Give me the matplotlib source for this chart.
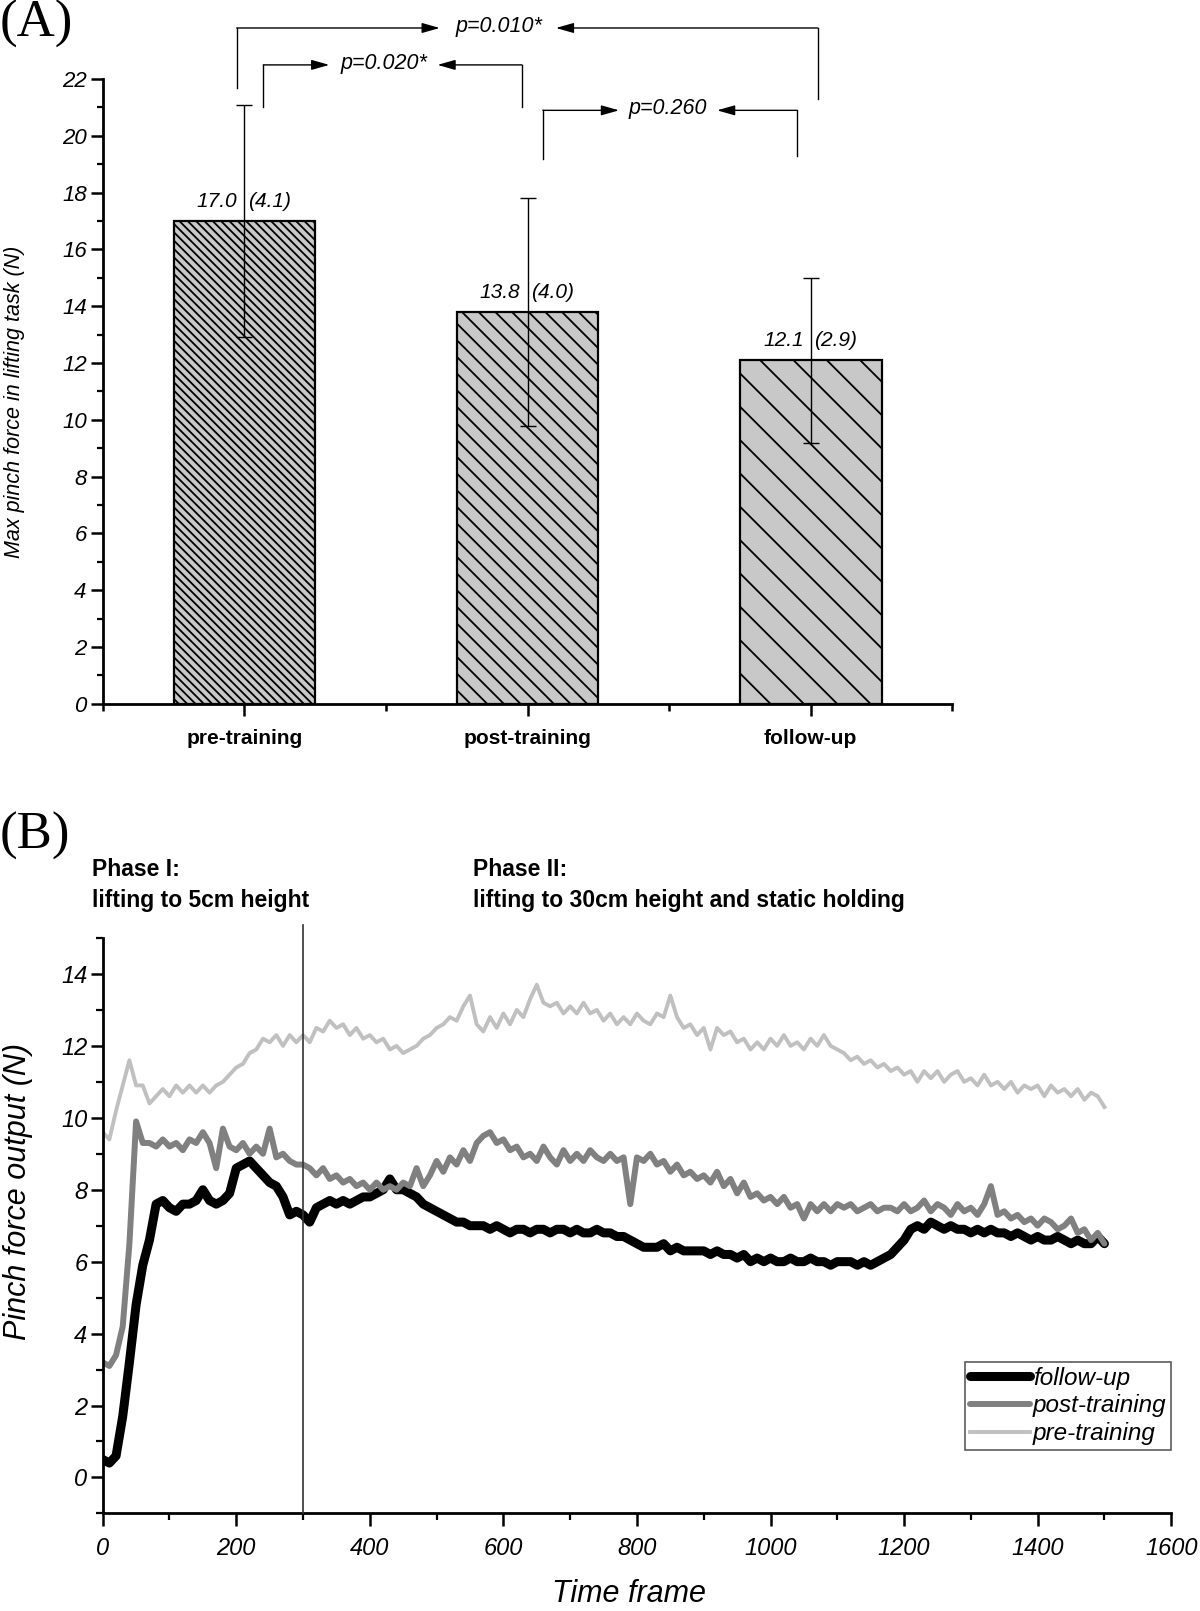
import matplotlib
matplotlib.use("Agg")
import matplotlib.pyplot as plt
from matplotlib.ticker import MultipleLocator, FixedLocator
import numpy as np

# ---------------- data: panel A ----------------
categories = ["pre-training", "post-training", "follow-up"]
means = [17.0, 13.8, 12.1]
sds = [4.1, 4.0, 2.9]
p_labels = ["p=0.010*", "p=0.020*", "p=0.260"]

# ---------------- data: panel B ----------------
frames = list(range(0, 1501, 10))
follow_up = [
    0.5, 0.4, 0.6, 1.7, 3.2, 4.8, 5.9, 6.6, 7.6, 7.7,
    7.5, 7.4, 7.6, 7.6, 7.7, 8.0, 7.7, 7.6, 7.7, 7.9,
    8.6, 8.7, 8.8, 8.6, 8.4, 8.2, 8.1, 7.8, 7.3, 7.4,
    7.3, 7.1, 7.5, 7.6, 7.7, 7.6, 7.7, 7.6, 7.7, 7.8,
    7.8, 7.9, 8.0, 8.3, 8.0, 8.0, 7.9, 7.8, 7.6, 7.5,
    7.4, 7.3, 7.2, 7.1, 7.1, 7.0, 7.0, 7.0, 6.9, 7.0,
    6.9, 6.8, 6.9, 6.9, 6.8, 6.9, 6.9, 6.8, 6.9, 6.9,
    6.8, 6.9, 6.8, 6.8, 6.9, 6.8, 6.8, 6.7, 6.7, 6.6,
    6.5, 6.4, 6.4, 6.4, 6.5, 6.3, 6.4, 6.3, 6.3, 6.3,
    6.3, 6.2, 6.3, 6.2, 6.2, 6.1, 6.2, 6.0, 6.1, 6.0,
    6.1, 6.0, 6.0, 6.1, 6.0, 6.0, 6.1, 6.0, 6.0, 5.9,
    6.0, 6.0, 6.0, 5.9, 6.0, 5.9, 6.0, 6.1, 6.2, 6.4,
    6.6, 6.9, 7.0, 6.9, 7.1, 7.0, 6.9, 7.0, 6.9, 6.9,
    6.8, 6.9, 6.8, 6.9, 6.8, 6.8, 6.7, 6.8, 6.7, 6.6,
    6.7, 6.6, 6.6, 6.7, 6.6, 6.5, 6.6, 6.5, 6.5, 6.7,
    6.5,
]
post_training = [
    3.2, 3.1, 3.4, 4.2, 6.5, 9.9, 9.3, 9.3, 9.2, 9.4,
    9.2, 9.3, 9.1, 9.4, 9.3, 9.6, 9.3, 8.6, 9.7, 9.2,
    9.1, 9.3, 9.0, 9.2, 9.0, 9.7, 8.9, 9.0, 8.8, 8.7,
    8.7, 8.6, 8.4, 8.6, 8.3, 8.4, 8.2, 8.3, 8.1, 8.2,
    8.0, 8.2, 8.0, 8.1, 8.0, 8.2, 8.1, 8.6, 8.1, 8.4,
    8.8, 8.5, 8.9, 8.7, 9.1, 8.8, 9.3, 9.5, 9.6, 9.3,
    9.4, 9.1, 9.2, 8.9, 9.0, 8.8, 9.2, 8.9, 8.7, 9.1,
    8.8, 9.0, 8.8, 9.1, 8.9, 8.8, 9.0, 8.8, 8.9, 7.6,
    8.9, 8.8, 9.0, 8.7, 8.8, 8.5, 8.7, 8.4, 8.5, 8.3,
    8.4, 8.2, 8.5, 8.1, 8.3, 7.9, 8.2, 7.8, 7.9, 7.7,
    7.8, 7.6, 7.8, 7.5, 7.6, 7.2, 7.6, 7.4, 7.6, 7.4,
    7.6, 7.5, 7.6, 7.4, 7.5, 7.6, 7.4, 7.5, 7.5, 7.4,
    7.6, 7.4, 7.5, 7.7, 7.4, 7.6, 7.5, 7.3, 7.6, 7.4,
    7.5, 7.3, 7.6, 8.1, 7.3, 7.4, 7.2, 7.3, 7.1, 7.2,
    7.0, 7.2, 7.1, 6.9, 7.0, 7.2, 6.8, 6.9, 6.6, 6.8,
    6.5,
]
pre_training = [
    9.6, 9.4, 10.2, 10.9, 11.6, 10.9, 10.9, 10.4, 10.6, 10.8,
    10.6, 10.9, 10.7, 10.9, 10.7, 10.9, 10.7, 10.9, 11.0, 11.2,
    11.4, 11.5, 11.8, 11.9, 12.2, 12.1, 12.3, 12.0, 12.3, 12.1,
    12.3, 12.1, 12.5, 12.4, 12.7, 12.5, 12.6, 12.3, 12.5, 12.2,
    12.3, 12.1, 12.2, 11.9, 12.0, 11.8, 11.9, 12.0, 12.2, 12.3,
    12.5, 12.6, 12.8, 12.7, 13.1, 13.4, 12.6, 12.4, 12.8, 12.5,
    12.9, 12.6, 13.0, 12.8, 13.3, 13.7, 13.2, 13.1, 13.2, 12.9,
    13.1, 12.9, 13.2, 12.9, 13.0, 12.7, 12.9, 12.6, 12.8, 12.6,
    12.9, 12.7, 12.6, 12.9, 12.8, 13.4, 12.8, 12.5, 12.6, 12.3,
    12.5, 11.9, 12.5, 12.3, 12.4, 12.1, 12.2, 11.9, 12.1, 11.9,
    12.2, 12.0, 12.3, 12.0, 12.1, 11.9, 12.2, 12.0, 12.3, 12.0,
    11.9, 11.8, 11.6, 11.7, 11.5, 11.6, 11.4, 11.5, 11.3, 11.4,
    11.2, 11.3, 11.0, 11.3, 11.1, 11.3, 11.0, 11.2, 11.3, 11.0,
    11.1, 10.9, 11.2, 10.9, 11.0, 10.8, 11.0, 10.7, 10.9, 10.8,
    10.9, 10.6, 10.9, 10.7, 10.8, 10.6, 10.8, 10.5, 10.7, 10.6,
    10.3,
]
phase_boundary = 300

# ---------------- style ----------------
SANS = ["Liberation Sans", "DejaVu Sans"]
SERIF = ["Liberation Serif", "DejaVu Serif"]
plt.rcParams["font.family"] = SANS
plt.rcParams["hatch.linewidth"] = 1.3

W, H = 1200, 1611
fig = plt.figure(figsize=(W / 100, H / 100), dpi=100)


def fx(px):
    return px / W


def fy(py):
    return 1 - py / H


# ================= Panel A =================
axA = fig.add_axes([fx(102.7), fy(703.8), fx(952.4 - 102.7), (703.8 - 79.1) / H])
xpos = np.arange(1, len(categories) + 1)
hatches = ["\\\\\\\\", "\\\\", "\\"]
bars = axA.bar(xpos, means, width=0.5, color="#c8c8c8", edgecolor="black",
               linewidth=1.6, zorder=2)
for b, h in zip(bars, hatches):
    b.set_hatch(h)
axA.errorbar(xpos, means, yerr=sds, fmt="none", ecolor="black", elinewidth=1,
             capsize=6, capthick=1, zorder=3)
for xi, m, s in zip(xpos, means, sds):
    axA.text(xi - 0.025, m + 0.5, f"{m:.1f}", ha="right", va="baseline",
             style="italic", fontsize=15)
    axA.text(xi + 0.012, m + 0.5, f"({s:.1f})", ha="left", va="baseline",
             style="italic", fontsize=15)

axA.set_xlim(0.5, 3.5)
axA.set_ylim(0, 22)
for sp in ["top", "right"]:
    axA.spines[sp].set_visible(False)
for sp in ["left", "bottom"]:
    axA.spines[sp].set_linewidth(2)
axA.yaxis.set_major_locator(MultipleLocator(2))
axA.yaxis.set_minor_locator(MultipleLocator(1))
axA.xaxis.set_major_locator(FixedLocator(list(xpos)))
axA.xaxis.set_minor_locator(FixedLocator([0.5, 1.5, 2.5, 3.5]))
axA.set_xticklabels(categories, fontweight="bold", fontsize=15)
axA.tick_params(axis="y", which="major", direction="out", length=8.5, width=1.8,
                labelsize=16, pad=3)
axA.tick_params(axis="y", which="minor", direction="out", length=4.5, width=1.6)
axA.tick_params(axis="x", which="major", direction="out", length=8.5, width=1.8, pad=10)
axA.tick_params(axis="x", which="minor", direction="out", length=5, width=1.8)
for lab in axA.get_yticklabels():
    lab.set_style("italic")

# significance brackets (layout positions)
bracket_layout = [
    dict(xl=0.973, yl0=21.7, xr=3.024, yr0=21.3, y=23.8, tl=1.69, tr=2.10, xt=1.90),
    dict(xl=1.067, yl0=21.0, xr=1.98, yr0=21.0, y=22.5, tl=1.30, tr=1.682, xt=1.493),
    dict(xl=2.054, yl0=19.2, xr=2.95, yr0=19.3, y=20.9, tl=2.323, tr=2.669, xt=2.495),
]
arrow_kw = dict(arrowstyle="-|>,head_length=0.6,head_width=0.17", color="black",
                lw=1, shrinkA=0, shrinkB=0, mutation_scale=18)
for lab, L in zip(p_labels, bracket_layout):
    axA.plot([L["xl"], L["xl"]], [L["yl0"], L["y"]], color="black", lw=1, clip_on=False)
    axA.plot([L["xr"], L["xr"]], [L["yr0"], L["y"]], color="black", lw=1, clip_on=False)
    axA.annotate("", xy=(L["tl"], L["y"]), xytext=(L["xl"], L["y"]),
                 arrowprops=arrow_kw, annotation_clip=False)
    axA.annotate("", xy=(L["tr"], L["y"]), xytext=(L["xr"], L["y"]),
                 arrowprops=arrow_kw, annotation_clip=False)
    axA.text(L["xt"], L["y"] + 0.05, lab, ha="center", va="center", style="italic",
             fontsize=15.5, clip_on=False)

fig.text(fx(15), fy(402), "Max pinch force in lifting task (N)", rotation=90,
         ha="center", va="center", style="italic", fontsize=15.5)
fig.text(0.0, fy(0), "(A)", family=SERIF, fontsize=38, ha="left", va="top")

# ================= Panel B =================
axB = fig.add_axes([fx(102.7), fy(1513.4), fx(1171.2 - 102.7), (1513.4 - 938) / H])
axB.plot(frames, follow_up, color="black", lw=6.5, solid_capstyle="round",
         solid_joinstyle="round", label="follow-up", zorder=2)
axB.plot(frames, post_training, color="#808080", lw=4.3, solid_capstyle="round",
         label="post-training", zorder=2)
axB.plot(frames, pre_training, color="#c0c0c0", lw=2.8, label="pre-training", zorder=2)
axB.plot([phase_boundary, phase_boundary], [-1, 15.35], color="#333333", lw=1.2,
         clip_on=False, zorder=3)

axB.set_xlim(0, 1600)
axB.set_ylim(-1, 15)
for sp in ["top", "right"]:
    axB.spines[sp].set_visible(False)
for sp in ["left", "bottom"]:
    axB.spines[sp].set_linewidth(2)
axB.xaxis.set_major_locator(MultipleLocator(200))
axB.xaxis.set_minor_locator(MultipleLocator(100))
axB.yaxis.set_major_locator(MultipleLocator(2))
axB.yaxis.set_minor_locator(MultipleLocator(1))
axB.tick_params(which="major", direction="out", length=9, width=1.8, labelsize=17)
axB.tick_params(which="minor", direction="out", length=5, width=1.6)
axB.tick_params(axis="y", which="major", pad=2)
axB.tick_params(axis="x", which="major", pad=8)
for lab in axB.get_xticklabels() + axB.get_yticklabels():
    lab.set_style("italic")

leg = axB.legend(loc="lower right", bbox_to_anchor=(1.0, 0.11), borderaxespad=0,
                 frameon=True, fancybox=False, edgecolor="#333333",
                 prop=dict(style="italic", size=17.5), handlelength=2.5,
                 handletextpad=0.1, labelspacing=0.2, borderpad=0.2)
leg.get_frame().set_linewidth(1.2)

fig.text(fx(18.5), fy(1192), "Pinch force output (N)", rotation=90, ha="center",
         va="center", style="italic", fontsize=22)
fig.text(fx(629), fy(1594), "Time frame", ha="center", va="center", style="italic",
         fontsize=22)

fig.text(fx(92), fy(876), "Phase I:", ha="left", va="baseline", fontweight="bold",
         fontsize=16.5)
fig.text(fx(92), fy(907), "lifting to 5cm height", ha="left", va="baseline",
         fontweight="bold", fontsize=16.5)
fig.text(fx(472.6), fy(876), "Phase II:", ha="left", va="baseline", fontweight="bold",
         fontsize=16.5)
fig.text(fx(472.6), fy(907), "lifting to 30cm height and static holding", ha="left",
         va="baseline", fontweight="bold", fontsize=16.5)
fig.text(0.0, fy(812), "(B)", family=SERIF, fontsize=38, ha="left", va="top")

fig.savefig("out.png", dpi=100)
